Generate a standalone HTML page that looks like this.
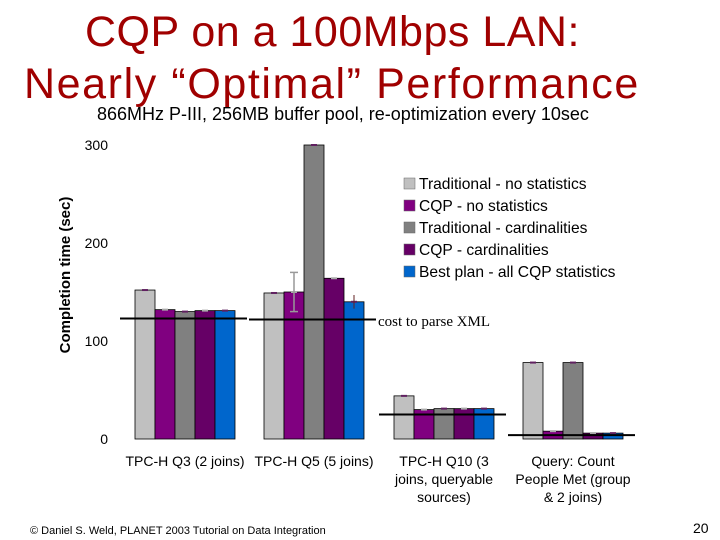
<!DOCTYPE html>
<html><head><meta charset="utf-8"><style>
body{margin:0;width:720px;height:540px;background:#fff;overflow:hidden;position:relative;font-family:"Liberation Sans",sans-serif}
.t{position:absolute;white-space:nowrap}
</style></head><body>
<div class="t" style="left:85px;top:8px;font-size:43px;color:#a00000;line-height:48px;letter-spacing:0.5px">CQP on a 100Mbps LAN:</div>
<div class="t" style="left:24px;top:60px;font-size:43px;color:#a00000;line-height:48px;letter-spacing:1.6px">Nearly “Optimal” Performance</div>
<div class="t" style="left:97px;top:104px;font-size:18px;color:#000">866MHz P-III, 256MB buffer pool, re-optimization every 10sec</div>
<svg id="chart" width="720" height="540" style="position:absolute;left:0;top:0" font-family="Liberation Sans, sans-serif"></svg>
<div class="t" style="left:30px;top:525px;font-size:11px">© Daniel S. Weld, PLANET 2003 Tutorial on Data Integration</div>
<div class="t" style="left:693px;top:520px;font-size:14px">20</div>
<script>
const categories=["TPC-H Q3 (2 joins)","TPC-H Q5 (5 joins)","TPC-H Q10 (3|joins, queryable|sources)","Query: Count|People Met (group|& 2 joins)"];
const seriesNames=["Traditional - no statistics","CQP - no statistics","Traditional - cardinalities","CQP - cardinalities","Best plan - all CQP statistics"];
const tradNoStats=[152,149,44,78];
const cqpNoStats=[132,150,30,8];
const tradCard=[130,300,31,78];
const cqpCard=[131,164,31,6];
const bestPlan=[131,140,31,6];
const parseCost=[123,122,25,4];
const yTicks=[0,100,200,300];
const series=[tradNoStats,cqpNoStats,tradCard,cqpCard,bestPlan];
const colors=["#c0c0c0","#800080","#808080","#660066","#0066cc"];
const svg=document.getElementById('chart');const NS="http://www.w3.org/2000/svg";
function mk(t,a,p){const e=document.createElementNS(NS,t);for(const k in a)e.setAttribute(k,a[k]);(p||svg).appendChild(e);return e;}
const y=v=>439-v*0.98;
const groupX=[135,264,394,523];const bw=20;
yTicks.forEach(v=>{const t=mk('text',{x:108,y:y(v)+5,'text-anchor':'end','font-size':14});t.textContent=v;

});
const yl=mk('text',{transform:'translate(70,275) rotate(-90)','font-size':15,'font-weight':'bold','text-anchor':'middle'});yl.textContent="Completion time (sec)";


categories.forEach((c,g)=>{
 series.forEach((s,i)=>{
  const r=mk('rect',{x:groupX[g]+i*bw,y:y(s[g]),width:bw,height:y(0)-y(s[g]),fill:colors[i],stroke:'#000','stroke-width':0.8});
  
  
  const cx=groupX[g]+i*bw+bw/2;
  mk('line',{x1:cx-3,x2:cx+3,y1:y(s[g]),y2:y(s[g]),stroke:i%2?'#aaa':'#602060','stroke-width':2});
 });
 const pl=mk('line',{x1:groupX[g]-15,x2:groupX[g]+112,y1:y(parseCost[g]),y2:y(parseCost[g]),stroke:'#000','stroke-width':2});
 
 
 const lines=c.split('|');
 lines.forEach((ln,k)=>{const t=mk('text',{x:groupX[g]+50,y:466+k*18,'text-anchor':'middle','font-size':14});t.textContent=ln;
 
 });
});
mk('line',{x1:294,x2:294,y1:y(170),y2:y(130),stroke:'#999','stroke-width':1.5});
mk('line',{x1:290,x2:298,y1:y(170),y2:y(170),stroke:'#999','stroke-width':1.5});
mk('line',{x1:290,x2:298,y1:y(130),y2:y(130),stroke:'#999','stroke-width':1.5});
mk('line',{x1:354,x2:354,y1:y(147),y2:y(133),stroke:'#602020','stroke-width':1});
const ct=mk('text',{x:378,y:326,'font-size':15,'font-family':'Liberation Serif, serif'});ct.textContent="cost to parse XML";


seriesNames.forEach((n,i)=>{
 const yy=184+i*22;
 const r=mk('rect',{x:404,y:yy-6,width:11,height:11,fill:colors[i],stroke:'#666','stroke-width':0.5});
 
 
 const t=mk('text',{x:419,y:yy+5,'font-size':15.6});t.textContent=n;
 
 
});
</script>
</body></html>
